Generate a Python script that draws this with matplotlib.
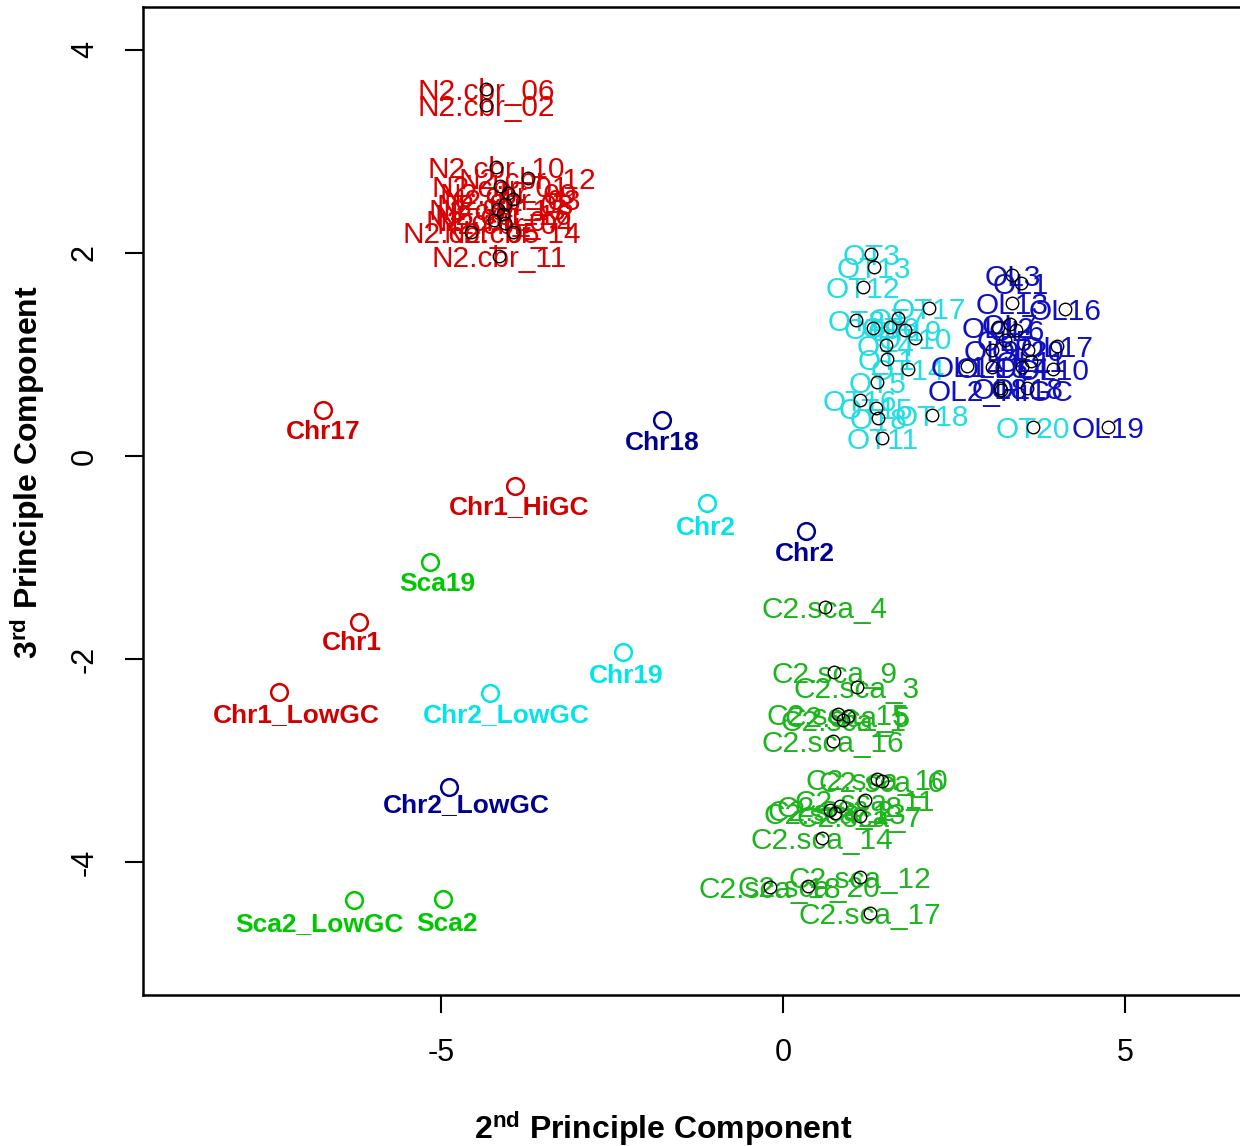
import numpy as np
import matplotlib
matplotlib.use('Agg')
import matplotlib.pyplot as plt
from matplotlib import font_manager

# --- sample clusters: PC2 / PC3 scores ---
n2_names = ['N2.cbr_06', 'N2.cbr_02', 'N2.cbr_10', 'N2.cbr_12', 'N2.cbr_01',
            'N2.cbr_09', 'N2.cbr_03', 'N2.cbr_08', 'N2.cbr_13', 'N2.cbr_16',
            'N2.cbr_07', 'N2.cbr_04', 'N2.cbr_05', 'N2.cbr_14', 'N2.cbr_11']
n2_pc2 = [-4.34, -4.34, -4.19, -3.73, -4.13, -4.02, -3.95, -4.06, -4.17, -4.09,
          -4.22, -4.06, -4.56, -3.95, -4.15]
n2_pc3 = [3.61, 3.46, 2.85, 2.74, 2.66, 2.59, 2.53, 2.48, 2.43, 2.38,
          2.32, 2.29, 2.21, 2.21, 1.97]

ot_names = ['OT3', 'OT13', 'OT12', 'OT17', 'OT2', 'OT7', 'OT9', 'OT6', 'OT10', 'OT4',
            'OT1', 'OT14', 'OT5', 'OT16', 'OT15', 'OT8', 'OT18', 'OT11', 'OT20', 'OT19']
ot_pc2 = [1.29, 1.33, 1.17, 2.13, 1.07, 1.68, 1.31, 1.57, 1.93, 1.50,
          1.52, 1.83, 1.38, 1.13, 1.36, 1.39, 2.17, 1.45, 3.65, 1.78]
ot_pc3 = [1.99, 1.86, 1.66, 1.46, 1.34, 1.36, 1.26, 1.27, 1.16, 1.09,
          0.96, 0.86, 0.73, 0.55, 0.47, 0.37, 0.40, 0.18, 0.29, 1.24]

ol_names = ['OL3', 'OL1', 'OL13', 'OL16', 'OL7', 'OL12', 'OL6', 'OL5', 'OL9', 'OL20',
            'OL17', 'OL11', 'OL14', 'OL15', 'OL4', 'OL10', 'OL8', 'OL2_HiGC', 'OL18', 'OL19']
ol_pc2 = [3.35, 3.48, 3.34, 4.12, 3.32, 3.14, 3.41, 3.24, 3.05, 3.58,
          4.00, 3.62, 2.69, 3.05, 3.49, 3.95, 3.17, 3.18, 3.56, 4.75]
ol_pc3 = [1.78, 1.70, 1.51, 1.45, 1.30, 1.27, 1.24, 1.14, 1.04, 1.04,
          1.08, 0.94, 0.89, 0.88, 0.88, 0.86, 0.67, 0.65, 0.67, 0.29]

c2_names = ['C2.sca_4', 'C2.sca_9', 'C2.sca_3', 'C2.sca_15', 'C2.sca_5', 'C2.sca_1',
            'C2.sca_16', 'C2.sca_10', 'C2.sca_6', 'C2.sca_11', 'C2.sca_8', 'C2.sca_2',
            'C2.sca_7', 'C2.sca_13', 'C2.sca_14', 'C2.sca_12', 'C2.sca_18', 'C2.sca_20',
            'C2.sca_17']
c2_pc2 = [0.61, 0.75, 1.08, 0.80, 0.95, 0.88, 0.73, 1.37, 1.44, 1.20,
          0.83, 0.69, 1.12, 0.76, 0.57, 1.12, -0.19, 0.37, 1.27]
c2_pc3 = [-1.49, -2.13, -2.27, -2.54, -2.56, -2.60, -2.80, -3.18, -3.20, -3.39,
          -3.44, -3.48, -3.54, -3.51, -3.76, -4.14, -4.24, -4.23, -4.50]

# --- whole-chromosome / scaffold reference points ---
ref_names = ['Chr17', 'Chr1_HiGC', 'Chr1', 'Chr1_LowGC',
             'Sca19', 'Sca2_LowGC', 'Sca2',
             'Chr18', 'Chr2', 'Chr2_LowGC',
             'Chr2', 'Chr19', 'Chr2_LowGC']
ref_pc2 = [-6.72, -3.92, -6.19, -7.36,
           -5.16, -6.27, -4.97,
           -1.77, 0.34, -4.88,
           -1.11, -2.34, -4.28]
ref_pc3 = [0.45, -0.29, -1.63, -2.32,
           -1.04, -4.37, -4.36,
           0.35, -0.74, -3.26,
           -0.46, -1.93, -2.33]
ref_group = ['N2', 'N2', 'N2', 'N2',
             'C2', 'C2', 'C2',
             'OL', 'OL', 'OL',
             'OT', 'OT', 'OT']
# label nudges (pixels) below each circle
label_dx = [0, 4, -7, 17, 7, -34, 4, 0, -1, 17, -1, 3, 16]
label_dy = [-22, -22, -21, -23, -22, -24, -25, -23, -23, -18, -25, -24, -22]

text_col = {'N2': '#D80000', 'C2': '#1EB41E', 'OT': '#22DDE3', 'OL': '#1010C0'}
ref_col = {'N2': '#D00000', 'C2': '#00C800', 'OT': '#00E4EC', 'OL': '#000090'}

names = {f.name for f in font_manager.fontManager.ttflist}
narrow = 'Liberation Sans Narrow' if 'Liberation Sans Narrow' in names else 'Liberation Sans'
plt.rcParams['font.family'] = 'Liberation Sans'
plt.rcParams['axes.unicode_minus'] = False
plt.rcParams['mathtext.fontset'] = 'custom'
plt.rcParams['mathtext.rm'] = narrow + ':bold'
plt.rcParams['mathtext.it'] = narrow + ':bold'
plt.rcParams['mathtext.bf'] = narrow + ':bold'

fig = plt.figure(figsize=(12.4, 11.46), dpi=100)
ax = fig.add_axes([143 / 1240, 1 - 995 / 1146, 1100 / 1240, 988 / 1146])
ax.set_xlim(-9.35, 6.72)
ax.set_ylim(-5.305, 4.42)

clusters = [(n2_names, n2_pc2, n2_pc3, 'N2'), (ot_names, ot_pc2, ot_pc3, 'OT'),
            (ol_names, ol_pc2, ol_pc3, 'OL'), (c2_names, c2_pc2, c2_pc3, 'C2')]
for labs, xs, ys, grp in clusters:
    for lab, x, y in zip(labs, xs, ys):
        ax.annotate(lab, (x, y), xytext=(0, -11), textcoords='offset pixels',
                    ha='center', va='baseline', fontsize=21.5, color=text_col[grp], zorder=2)
    ax.plot(xs, ys, 'o', ms=9, mfc='none', mec='black', mew=1.0, zorder=3)

for i in range(len(ref_names)):
    grp = ref_group[i]
    ax.plot(ref_pc2[i], ref_pc3[i], 'o', ms=12, mfc='none', mec=ref_col[grp], mew=1.8, zorder=4)
    ax.annotate(ref_names[i], (ref_pc2[i], ref_pc3[i]),
                xytext=(label_dx[i], label_dy[i]), textcoords='offset pixels',
                ha='center', va='center', fontsize=19, fontweight='bold',
                color=ref_col[grp], zorder=4)

for s in ax.spines.values():
    s.set_linewidth(1.8)
ax.set_xticks([-5, 0, 5])
ax.set_yticks([-4, -2, 0, 2, 4])
ax.tick_params(length=13, width=1.5, pad=18, labelsize=22)
for t in ax.get_xticklabels() + ax.get_yticklabels():
    t.set_family(narrow)
for t in ax.get_yticklabels():
    t.set_rotation(90)
    t.set_va('center')

fig.text(663 / 1240, 1 - 1128 / 1146, '$\\mathrm{2^{nd}}$ Principle Component',
         ha='center', va='center', fontsize=23, fontweight='bold', family=narrow)
fig.text(28 / 1240, 1 - 472 / 1146, '$\\mathrm{3^{rd}}$ Principle Component',
         ha='center', va='center', fontsize=23, fontweight='bold', family=narrow,
         rotation=90)

fig.savefig('out.png', dpi=100)
